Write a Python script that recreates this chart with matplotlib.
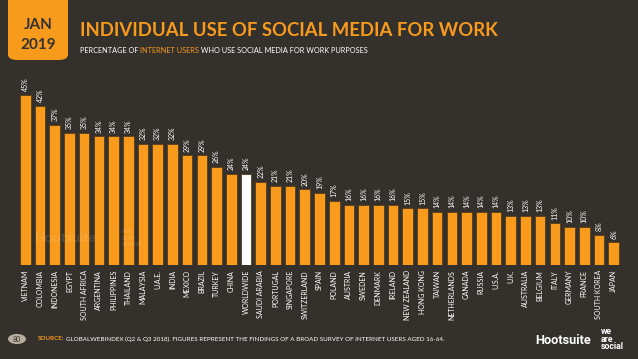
import matplotlib.pyplot as plt
from matplotlib.patches import FancyBboxPatch, Circle

# data
countries = ["VIETNAM", "COLOMBIA", "INDONESIA", "EGYPT", "SOUTH AFRICA", "ARGENTINA",
             "PHILIPPINES", "THAILAND", "MALAYSIA", "U.A.E.", "INDIA", "MEXICO", "BRAZIL",
             "TURKEY", "CHINA", "WORLDWIDE", "SAUDI ARABIA", "PORTUGAL", "SINGAPORE",
             "SWITZERLAND", "SPAIN", "POLAND", "AUSTRIA", "SWEDEN", "DENMARK", "IRELAND",
             "NEW ZEALAND", "HONG KONG", "TAIWAN", "NETHERLANDS", "CANADA", "RUSSIA",
             "U.S.A.", "U.K.", "AUSTRALIA", "BELGIUM", "ITALY", "GERMANY", "FRANCE",
             "SOUTH KOREA", "JAPAN"]
values = [45, 42, 37, 35, 35, 34, 34, 34, 32, 32, 32, 29, 29, 26, 24, 24, 22, 21, 21,
          20, 19, 17, 16, 16, 16, 16, 15, 15, 14, 14, 14, 14, 14, 13, 13, 13, 11, 10, 10,
          8, 6]
highlight = "WORLDWIDE"

bg = "#34302c"
orange = "#f89b1c"
font = ["Liberation Sans Narrow", "Lato", "DejaVu Sans"]

fig = plt.figure(figsize=(6.38, 3.59), dpi=100)
fig.patch.set_facecolor(bg)

ax = fig.add_axes([18/638, 1-265/359, 603/638, 189/359])
ax.set_facecolor(bg)
x = list(range(len(countries)))
colors = ["white" if c == highlight else orange for c in countries]
ax.bar(x, values, width=0.72, color=colors, edgecolor="#5a3d18", linewidth=0.6)
ax.set_xlim(-0.5, len(countries) - 0.5)
ax.set_ylim(0, 50)
ax.axis("off")

for i, v in enumerate(values):
    ax.text(i, v + 1.0, f"{v}%", rotation=90, ha="center", va="bottom",
            color="white", fontsize=5, family=font)
    ax.text(i, -1.3, countries[i], rotation=90, ha="center", va="top",
            color="white", fontsize=5, family=font)

# watermarks
fig.text(35/638, 1-238/359, "Hootsuite", color="white", alpha=0.12, fontsize=10,
         fontweight="bold", family=font, va="center")
fig.text(122/638, 1-237/359, "we\nare\nsocial", color="white", alpha=0.12, fontsize=6,
         fontweight="bold", family=font, va="center", linespacing=0.85)

# date box
fig.patches.append(FancyBboxPatch((8/638, 1-60/359), 60/638, 70/359,
                                  boxstyle="round,pad=0,rounding_size=0.015",
                                  transform=fig.transFigure, facecolor=orange,
                                  edgecolor="none"))
fig.text(38/638, 1-25/359, "JAN", ha="center", va="center", color=bg,
         fontsize=11, fontweight="bold", family=["Lato", "DejaVu Sans"])
fig.text(38/638, 1-45/359, "2019", ha="center", va="center", color=bg,
         fontsize=11, fontweight="bold", family=["Lato", "DejaVu Sans"])

# title and subtitle
fig.text(80/638, 1-31/359, "INDIVIDUAL USE OF SOCIAL MEDIA FOR WORK", ha="left",
         va="center", color=orange, fontsize=13.3, fontweight="bold",
         family=["Lato", "DejaVu Sans"])
sub_y = 1 - 50.5/359
t1 = fig.text(80/638, sub_y, "PERCENTAGE OF ", color="white", fontsize=5.3,
              family=font, va="center")
fig.canvas.draw()
r = fig.canvas.get_renderer()
bb = t1.get_window_extent(r)
t2 = fig.text(bb.x1/638, sub_y, "INTERNET USERS", color=orange, fontsize=5.3,
              family=font, va="center")
bb = t2.get_window_extent(r)
fig.text(bb.x1/638, sub_y, " WHO USE SOCIAL MEDIA FOR WORK PURPOSES", color="white",
         fontsize=5.3, family=font, va="center")

# footer
fig.patches.append(Circle((17/638, 1-339/359), 9/638, transform=fig.transFigure,
                          facecolor="#b9ae9c", edgecolor="none"))
fig.text(17/638, 1-339/359, "80", ha="center", va="center", color=bg, fontsize=5,
         family=font)
s1 = fig.text(38/638, 1-339/359, "SOURCE:", color=orange, fontsize=4.5,
              fontweight="bold", family=font, va="center")
fig.canvas.draw()
bb = s1.get_window_extent(r)
fig.text(bb.x1/638 + 0.003, 1-339/359,
         "GLOBALWEBINDEX (Q2 & Q3 2018). FIGURES REPRESENT THE FINDINGS OF A BROAD "
         "SURVEY OF INTERNET USERS AGED 16-64.", color="white", fontsize=4.5,
         family=font, va="center")
fig.text(535/638, 1-340/359, "Hootsuite", color="white", fontsize=9.2,
         fontweight="bold", family=["Roboto", "DejaVu Sans"], va="center")
fig.text(601/638, 1-339/359, "we\nare\nsocial", color="white", fontsize=6.3,
         fontweight="bold", family=["Roboto", "DejaVu Sans"], va="center",
         linespacing=0.8)

fig.savefig("out.png", dpi=100, facecolor=bg)
